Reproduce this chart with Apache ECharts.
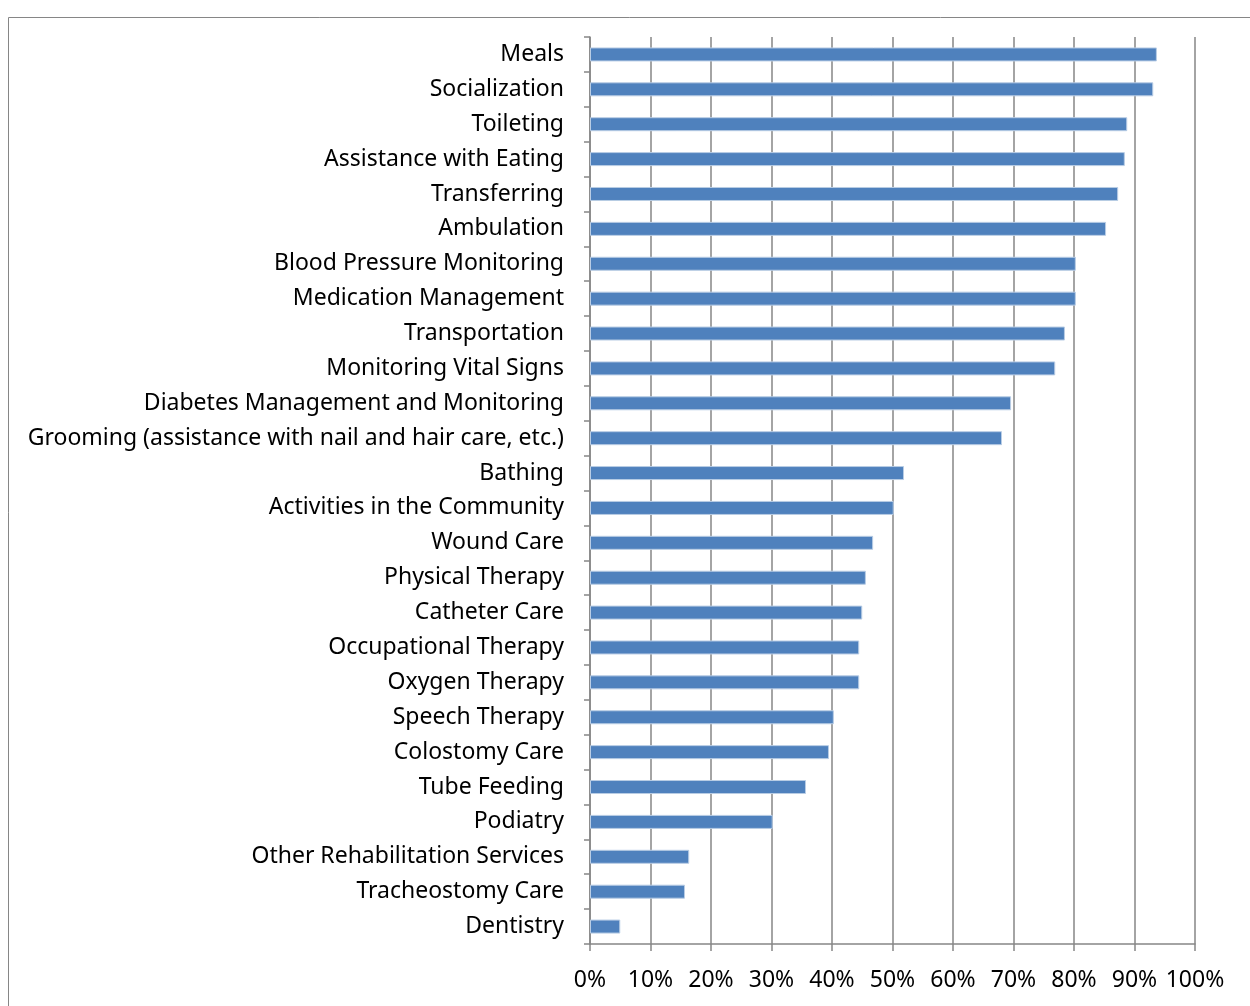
<!DOCTYPE html>
<html>
<head>
<meta charset="utf-8">
<script src="https://cdn.jsdelivr.net/npm/echarts@6/dist/echarts.min.js"></script>
<style>
  html, body { margin: 0; padding: 0; background: #fff; }
  #chart { width: 1250px; height: 1006px; }
</style>
</head>
<body>
<div id="chart"></div>
<script>
const services = [
  'Meals', 'Socialization', 'Toileting', 'Assistance with Eating', 'Transferring',
  'Ambulation', 'Blood Pressure Monitoring', 'Medication Management', 'Transportation',
  'Monitoring Vital Signs', 'Diabetes Management and Monitoring',
  'Grooming (assistance with nail and hair care, etc.)', 'Bathing',
  'Activities in the Community', 'Wound Care', 'Physical Therapy', 'Catheter Care',
  'Occupational Therapy', 'Oxygen Therapy', 'Speech Therapy', 'Colostomy Care',
  'Tube Feeding', 'Podiatry', 'Other Rehabilitation Services', 'Tracheostomy Care',
  'Dentistry'
]
const shares = [
  0.937, 0.931, 0.888, 0.884, 0.873, 0.853, 0.803, 0.803, 0.785, 0.769,
  0.696, 0.681, 0.519, 0.502, 0.468, 0.456, 0.450, 0.445, 0.445, 0.403,
  0.395, 0.357, 0.302, 0.164, 0.157, 0.050
]

const mychart = echarts.init(document.getElementById('chart'))
const gray = '#868686'

mychart.setOption({
  animation: false,
  textStyle: { fontFamily: 'Noto Sans' },
  graphic: [{
    type: 'rect',
    shape: { x: 8.5, y: 17.5, width: 1300, height: 1100 },
    style: { fill: 'none', stroke: gray, lineWidth: 1 },
    silent: true
  }],
  grid: {
    left: 590,
    right: 55,
    top: 37,
    bottom: 62
  },
  xAxis: {
    type: 'value',
    min: 0,
    max: 1,
    interval: 0.1,
    axisLine: { show: true, lineStyle: { color: gray, width: 1.5 } },
    axisTick: { show: true, length: 7, lineStyle: { color: gray, width: 1.5 } },
    splitLine: { show: true, lineStyle: { color: gray, width: 1.5 } },
    axisLabel: {
      color: '#000',
      fontSize: 23,
      margin: 25,
      formatter: v => Math.round(v * 100) + '%'
    }
  },
  yAxis: {
    type: 'category',
    inverse: true,
    data: services,
    axisLine: { show: true, lineStyle: { color: gray, width: 1.5 } },
    axisTick: { show: true, length: 6, alignWithLabel: false, lineStyle: { color: gray, width: 1.5 } },
    axisLabel: { color: '#000', fontSize: 23, margin: 26 }
  },
  series: [{
    type: 'bar',
    data: shares,
    barWidth: 14,
    itemStyle: {
      color: '#4F81BD',
      borderColor: '#B9CDE5',
      borderWidth: 1
    }
  }]
})
</script>
</body>
</html>
